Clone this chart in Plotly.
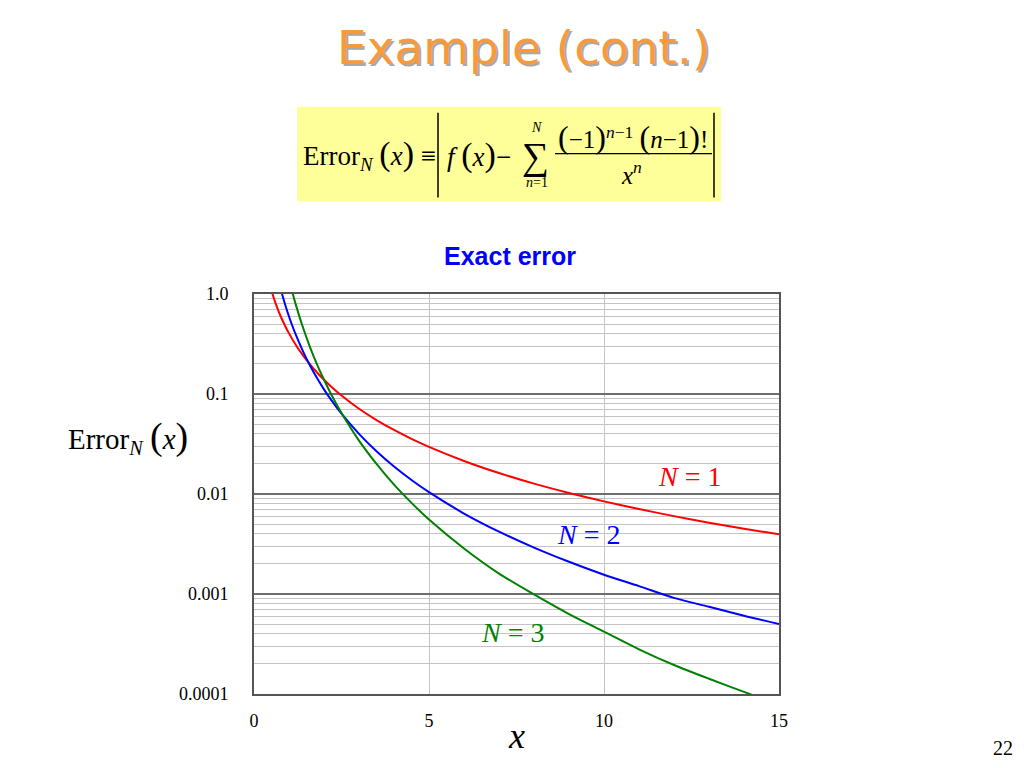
import plotly.graph_objects as go

# ---- data ----
x_n1 = [0.5, 0.6, 0.7, 0.8, 0.9, 1.0, 1.2, 1.4, 1.6, 1.8, 2.0, 2.2, 2.5, 3.0, 3.5, 4.0, 4.5,
        5, 6, 7, 8, 9, 10, 11, 12, 13, 14, 15]
err_n1 = [1.077, 0.839, 0.676, 0.559, 0.471, 0.404, 0.307, 0.243, 0.1975, 0.164, 0.1387, 0.1189,
          0.0965, 0.0712, 0.0549, 0.0437, 0.0356, 0.0296, 0.0214, 0.0162, 0.0127, 0.01025,
          0.00844, 0.00707, 0.00601, 0.00517, 0.0045, 0.00395]

x_n2 = [0.7, 0.8, 0.9, 1.0, 1.1, 1.2, 1.4, 1.6, 1.8, 2.0, 2.2, 2.5, 3.0, 3.5, 4.0, 4.5,
        5, 6, 7, 8, 9, 10, 11, 12, 13, 14, 15]
err_n2 = [1.365, 1.004, 0.763, 0.596, 0.476, 0.387, 0.267, 0.193, 0.1445, 0.1113, 0.0877, 0.0635,
          0.0399, 0.0267, 0.0188, 0.0138, 0.01042, 0.00638, 0.0042, 0.00291, 0.0021, 0.00156,
          0.0012, 0.000915, 0.000745, 0.000606, 0.000500]

x_n3 = [1.0, 1.1, 1.2, 1.4, 1.6, 1.8, 2.0, 2.2, 2.5, 3.0, 3.5, 4.0, 4.5,
        5, 6, 7, 8, 9, 10, 11, 12, 13, 14, 15]
err_n3 = [1.404, 1.027, 0.770, 0.462, 0.295, 0.198, 0.1387, 0.1001, 0.0645, 0.0342, 0.0200,
          0.0124, 0.00815, 0.00555, 0.00285, 0.00160, 0.00099, 0.00063, 0.00042, 0.00028,
          0.000195, 0.000142, 0.000105, 0.000078]

x_ticks = [0, 5, 10, 15]
x_tick_labels = ["0", "5", "10", "15"]
y_ticks = [1.0, 0.1, 0.01, 0.001, 0.0001]
y_tick_labels = ["1.0", "0.1", "0.01", "0.001", "0.0001"]
series_names = ["N = 1", "N = 2", "N = 3"]

# ---- layout helpers (page pixel -> paper); the page body has an 8px margin ----
OFF = 8
W, H = 1024 - 2 * OFF, 768 - 2 * OFF
L, R, T, B = 254 - OFF, 779 - OFF, 293.5 - OFF, 694 - OFF


def px(x):
    return (x - OFF - L) / (R - L)


def py(y):
    return (B - (y - OFF)) / (B - T)


SERIF = "Liberation Serif, Times New Roman, serif"
SANS = "Liberation Sans, Arial, sans-serif"
WIDE = "DejaVu Sans, Verdana, sans-serif"

fig = go.Figure()
colors = ["#FF0000", "#0000FF", "#008000"]
for xs, ys, c, nm in zip([x_n1, x_n2, x_n3], [err_n1, err_n2, err_n3], colors, series_names):
    fig.add_trace(go.Scatter(x=xs, y=ys, mode="lines", name=nm,
                             line=dict(color=c, width=2, shape="spline", smoothing=0.8),
                             showlegend=False, hoverinfo="skip"))

minor_vals = [m * 10.0 ** k for k in range(-4, 0) for m in range(2, 10)]

fig.update_layout(
    width=W, height=H,
    margin=dict(l=L, r=W - R, t=T, b=H - B, pad=0),
    paper_bgcolor="white", plot_bgcolor="white",
    xaxis=dict(range=[0, 15], tickvals=x_ticks, ticktext=x_tick_labels,
               showgrid=True, gridcolor="#c4c4c4", gridwidth=1, zeroline=False,
               showline=True, mirror=True, linecolor="#555555", linewidth=2,
               ticks="", ticklabelstandoff=9,
               tickfont=dict(family=SERIF, size=18, color="black")),
    yaxis=dict(type="log", range=[-4, 0], tickvals=y_ticks, ticktext=y_tick_labels,
               showgrid=True, gridcolor="#6e6e6e", gridwidth=2, zeroline=False,
               showline=True, mirror=True, linecolor="#555555", linewidth=2,
               ticks="", ticklabelstandoff=20,
               tickfont=dict(family=SERIF, size=18, color="black"),
               minor=dict(tickvals=minor_vals, showgrid=True, gridcolor="#c4c4c4",
                          gridwidth=1, ticks="")),
)

ann = []


def add(text, x, y, size, color="black", family=SERIF, xanchor="center", yanchor="middle"):
    ann.append(dict(text=text, x=px(x), y=py(y), xref="paper", yref="paper",
                    showarrow=False, xanchor=xanchor, yanchor=yanchor,
                    font=dict(family=family, size=size, color=color)))


# title with shadow
add("Example (cont.)", 525, 49, 47, color="#A8A8A8", family=WIDE)
add("Example (cont.)", 523, 47, 47, color="#F79A3B", family=WIDE)

# formula box
shapes = [dict(type="rect", xref="paper", yref="paper", x0=px(297), x1=px(721),
               y0=py(106), y1=py(201), fillcolor="#FFFF99", line=dict(width=0), layer="below")]
add('Error<sub><i>N</i></sub> <span style="font-size:34px">(</span><i>x</i>'
    '<span style="font-size:34px">)</span> \u2261', 301, 154, 27, xanchor="left")
shapes.append(dict(type="line", xref="paper", yref="paper", x0=px(438), x1=px(438),
                   y0=py(112), y1=py(197), line=dict(color="black", width=1.5)))
add('<i>f</i> <span style="font-size:34px">(</span><i>x</i>'
    '<span style="font-size:34px">)</span>\u2212', 445, 154, 27, xanchor="left")
add("\u2211", 535, 156, 38)
add("<i>N</i>", 536, 127, 14)
add("<i>n</i>=1", 537, 182, 14)
add('<span style="font-size:32px">(</span>\u22121<span style="font-size:32px">)</span>'
    '<sup><i>n</i>\u22121</sup> <span style="font-size:32px">(</span><i>n</i>\u22121'
    '<span style="font-size:32px">)</span>!', 633, 136, 25)
shapes.append(dict(type="line", xref="paper", yref="paper", x0=px(555), x1=px(712),
                   y0=py(153), y1=py(153), line=dict(color="black", width=1.2)))
add("<i>x</i><sup><i>n</i></sup>", 631, 172, 25)
shapes.append(dict(type="line", xref="paper", yref="paper", x0=px(714), x1=px(714),
                   y0=py(112), y1=py(197), line=dict(color="black", width=1.5)))

# chart title
add("<b>Exact error</b>", 510, 255, 25, color="#0000FF", family=SANS)

# y label
add('Error<sub><i>N</i></sub> <span style="font-size:38px">(</span><i>x</i>'
    '<span style="font-size:38px">)</span>', 66, 437, 29, xanchor="left")

# series labels
add("<i>N</i> = 1", 689, 476, 28, color="#FF0000")
add("<i>N</i> = 2", 588, 534, 28, color="#0000FF")
add("<i>N</i> = 3", 512, 632, 28, color="#008000")

# x label
add("<i>x</i>", 516, 736, 36)

# page number
add("22", 1003, 748, 20)

fig.update_layout(annotations=ann, shapes=shapes)
fig.write_html("out.html")
